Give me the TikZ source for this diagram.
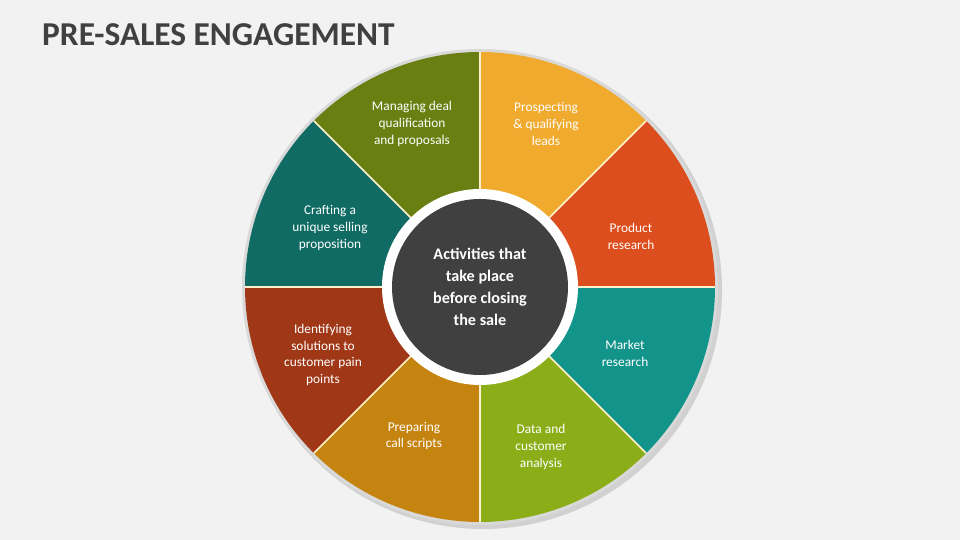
\documentclass[tikz,border=0pt]{standalone}
\usepackage{fontspec}
\setmainfont{Carlito}
\usetikzlibrary{positioning}
\definecolor{bgpage}{HTML}{F2F2F2}
\definecolor{titlegray}{HTML}{404040}
\definecolor{hubgray}{HTML}{404040}
\definecolor{gapcream}{HTML}{FFF2CC}
\definecolor{rimgray}{HTML}{D9D9D9}
\definecolor{segolive}{HTML}{6A7F12}
\definecolor{segorange}{HTML}{F0AA2E}
\definecolor{segred}{HTML}{DC4E1D}
\definecolor{segteal}{HTML}{12948A}
\definecolor{seglime}{HTML}{8BAE18}
\definecolor{segamber}{HTML}{C5840F}
\definecolor{segbrick}{HTML}{A03818}
\definecolor{segpine}{HTML}{0F6B63}
\tikzset{
  seglabel/.style={text=white, align=center, font=\fontsize{7.6}{9.6}\selectfont},
  hubtext/.style={text=white, align=center, font=\fontsize{9.2}{12.4}\selectfont\bfseries},
  gapline/.style={draw=gapcream, line width=0.9pt}
}
\begin{document}
\begin{tikzpicture}
\fill[bgpage] (0,0) rectangle (19.2,10.8);
\useasboundingbox (0,0) rectangle (19.2,10.8);
\node[anchor=west, text=titlegray, font=\fontsize{19}{22}\selectfont\bfseries] (title) at (0.72,10.1) {PRE-SALES ENGAGEMENT};
\coordinate (hub) at (9.6,5.06);
% rim and shadow
\fill[black!18] ([xshift=0.06cm,yshift=-0.06cm]hub) circle (4.78);
\fill[rimgray] (hub) circle (4.76);
% segments, counter-clockwise from the right
\foreach \a/\col in {0/segred, 45/segorange, 90/segolive, 135/segpine, 180/segbrick, 225/segamber, 270/seglime, 315/segteal}
  \fill[\col] (hub) -- ++(\a:4.7) arc[start angle=\a, end angle=\a+45, radius=4.7] -- cycle;
\foreach \a in {0,45,...,315}
  \draw[gapline] (hub) -- ++(\a:4.7);
% centre disc
\fill[white] (hub) circle (1.96);
\node[circle, fill=hubgray, minimum size=3.52cm, hubtext] (centre) at (hub) {Activities that\\take place\\before closing\\the sale};
% labels
\node[seglabel] (manage) at (8.24,8.32) {Managing deal\\qualification\\and proposals};
\node[seglabel] (prospect) at (10.92,8.32) {Prospecting\\\& qualifying\\leads};
\node[seglabel] (product) at (12.62,6.08) {Product\\research};
\node[seglabel] (market) at (12.5,3.74) {Market\\research};
\node[seglabel] (data) at (10.82,1.86) {Data and\\customer\\analysis};
\node[seglabel] (prepare) at (8.28,2.08) {Preparing\\call scripts};
\node[seglabel] (identify) at (6.46,3.7) {Identifying\\solutions to\\customer pain\\points};
\node[seglabel] (craft) at (6.6,6.24) {Crafting a\\unique selling\\proposition};
\end{tikzpicture}
\end{document}
